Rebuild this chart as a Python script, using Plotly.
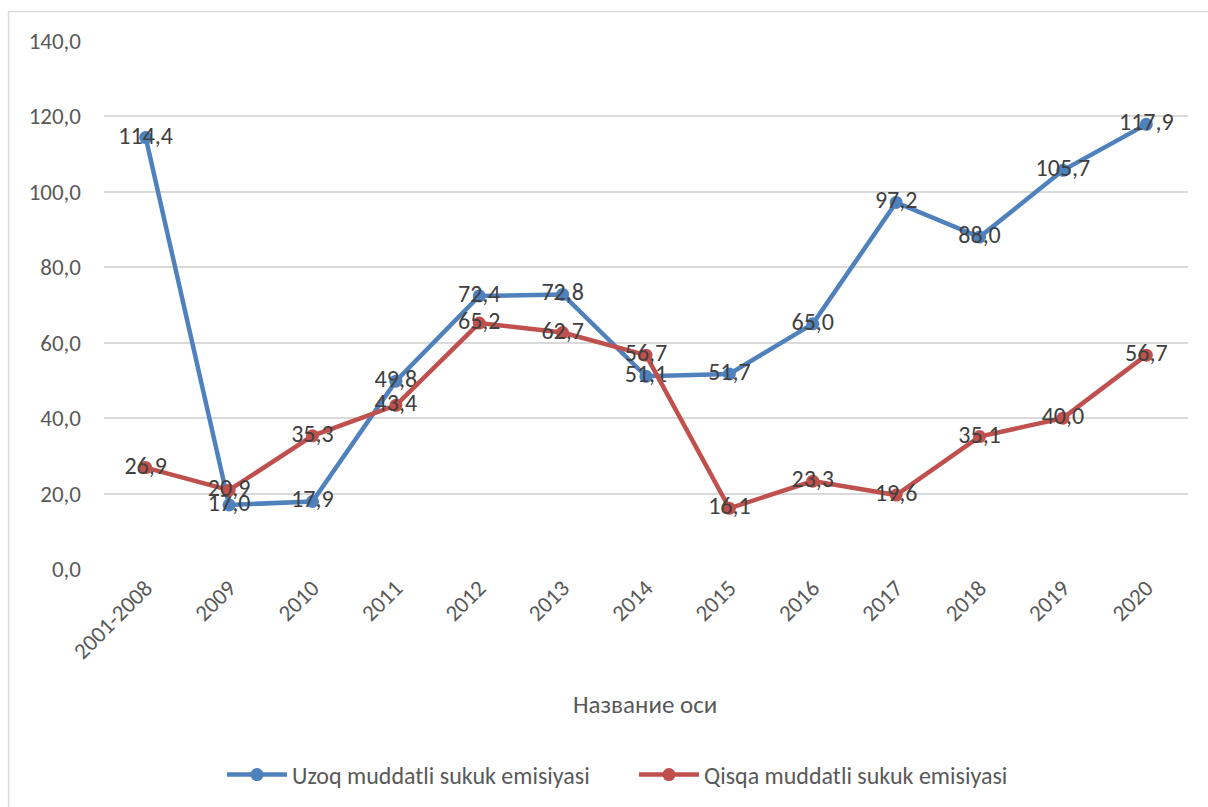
import plotly.graph_objects as go

# Categories and series values
categories = ["2001-2008", "2009", "2010", "2011", "2012", "2013", "2014",
              "2015", "2016", "2017", "2018", "2019", "2020"]
uzoq = [114.4, 17.0, 17.9, 49.8, 72.4, 72.8, 51.1, 51.7, 65.0, 97.2, 88.0, 105.7, 117.9]
qisqa = [26.9, 20.9, 35.3, 43.4, 65.2, 62.7, 56.7, 16.1, 23.3, 19.6, 35.1, 40.0, 56.7]
y_ticks = [0, 20, 40, 60, 80, 100, 120, 140]

series_names = ["Uzoq muddatli sukuk emisiyasi", "Qisqa muddatli sukuk emisiyasi"]
colors = ["#4F81BD", "#C0504D"]

FONT = "Carlito, Calibri, Lato, 'Open Sans', sans-serif"


def fmt(v):
    return f"{v:.1f}".replace(".", ",")


fig = go.Figure()
for name, vals, col in zip(series_names, [uzoq, qisqa], colors):
    fig.add_trace(go.Scatter(
        x=categories, y=vals, name=name,
        mode="lines+markers+text",
        line=dict(color=col, width=4.5),
        marker=dict(color=col, size=13),
        text=[fmt(v) for v in vals],
        textposition="middle center",
        textfont=dict(family=FONT, size=24, color="#404040"),
        cliponaxis=False,
    ))

L, R, T, B = 104, 20, 41, 238
W, H = 1208, 807
pw, ph = W - L - R, H - T - B

# Outer chart border
fig.add_shape(type="rect", xref="paper", yref="paper",
              x0=(8.5 - L) / pw, x1=(W + 20 - L) / pw,
              y0=(H - B - (H + 20)) / ph, y1=(H - B - 11.5) / ph,
              line=dict(color="#D9D9D9", width=1.5), fillcolor="rgba(0,0,0,0)",
              layer="below")

fig.add_annotation(text="Название оси", xref="paper", yref="paper",
                   x=(645 - L) / pw, y=(H - B - 704) / ph,
                   showarrow=False, xanchor="center", yanchor="middle",
                   font=dict(family=FONT, size=25, color="#595959"))

fig.update_layout(
    width=W, height=H,
    margin=dict(l=L, r=R, t=T, b=B, autoexpand=False),
    paper_bgcolor="white", plot_bgcolor="white",
    separators=", ",
    font=dict(family=FONT, size=23, color="#595959"),
    showlegend=True,
    legend=dict(orientation="h", xanchor="left", yanchor="middle",
                x=(222 - L) / pw, y=(H - B - 775) / ph,
                font=dict(family=FONT, size=24, color="#595959"),
                itemwidth=60, entrywidth=337, entrywidthmode="pixels",
                traceorder="normal"),
    xaxis=dict(type="category", range=[-0.5, 12.5], tickangle=-45,
               showgrid=False, zeroline=False, showline=False, ticks="",
               tickfont=dict(family=FONT, size=23, color="#595959")),
    yaxis=dict(range=[0, 140], tickvals=y_ticks, tickformat=".1f",
               showgrid=True, gridcolor="#D9D9D9", gridwidth=1.5,
               zeroline=False, showline=False, ticks="", ticklabelstandoff=22,
               tickfont=dict(family=FONT, size=23, color="#595959")),
)

fig.write_html("out.html")
